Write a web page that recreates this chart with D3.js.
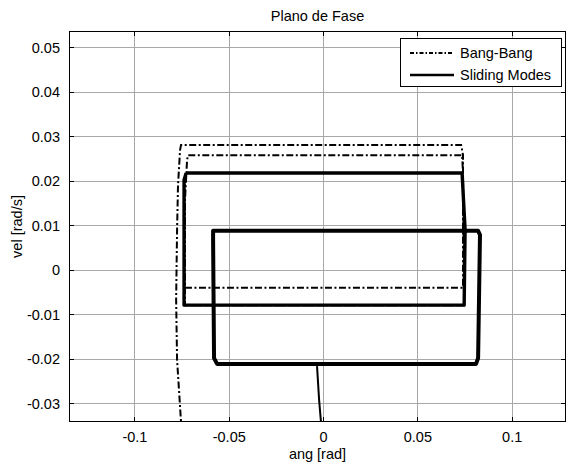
<!DOCTYPE html>
<html><head><meta charset="utf-8">
<script src="https://cdn.jsdelivr.net/npm/d3@7"></script>
<style>
html,body{margin:0;padding:0;background:#fff;}
text{font-family:"Liberation Sans",Arial,sans-serif;fill:#000;}
</style></head>
<body>
<svg id="chart" width="567" height="466"></svg>
<script>
// ---- data ----
const title = "Plano de Fase";
const xLabel = "ang [rad]";
const yLabel = "vel [rad/s]";
const xTicks = [-0.1, -0.05, 0, 0.05, 0.1];
const yTicks = [-0.03, -0.02, -0.01, 0, 0.01, 0.02, 0.03, 0.04, 0.05];
const xTickLabels = ["-0.1", "-0.05", "0", "0.05", "0.1"];
const yTickLabels = ["-0.03", "-0.02", "-0.01", "0", "0.01", "0.02", "0.03", "0.04", "0.05"];
const xDomain = [-0.1347, 0.1288];
const yDomain = [-0.03416, 0.0537];
const seriesNames = ["Bang-Bang", "Sliding Modes"];

// Bang-Bang trajectory [ang, vel]
const bangAng = [-0.0742, -0.0753, -0.0774, -0.0779, -0.0774, -0.0769, -0.0758, -0.0753, 0.0732, 0.0742, 0.0742, -0.0732, -0.0732, -0.0721, -0.0716, 0.0737, 0.0742, 0.0748, -0.0732, -0.0732, 0.0742, 0.0748, -0.0732];
const bangVel = [-0.0360, -0.0342, -0.0202, -0.0067, 0.0090, 0.0191, 0.0270, 0.0281, 0.0281, 0.0258, -0.0040, -0.0040, 0.0157, 0.0247, 0.0258, 0.0258, 0.0218, -0.0079, -0.0079, 0.0218, 0.0218, -0.0079, -0.0079];

// Sliding Modes trajectory pieces [ang, vel]
const smTailAng = [-0.0032, -0.0021, -0.0011, -0.0008];
const smTailVel = [-0.0216, -0.0292, -0.0342, -0.0360];
const smInnerAng = [-0.0032, 0.0811, 0.0822, 0.0832, 0.0822, -0.0583, -0.0583, -0.0578, -0.0562, 0.0811];
const smInnerVel = [-0.0211, -0.0211, -0.0198, 0.0079, 0.0088, 0.0088, 0.0067, -0.0198, -0.0211, -0.0211];
const smOuterAng = [-0.0726, 0.0737, 0.0753, 0.0748, -0.0737, -0.0737, -0.0726];
const smOuterVel = [0.0218, 0.0218, 0.0090, -0.0079, -0.0079, 0.0202, 0.0218];

// ---- layout ----
const L = 69, T = 31, R = 566, B = 422;
const svg = d3.select("#chart");
const x = d3.scaleLinear().domain(xDomain).range([L, R]);
const y = d3.scaleLinear().domain(yDomain).range([B, T]);
const FS = "14.5px";

svg.append("rect").attr("x", L).attr("y", T).attr("width", R - L).attr("height", B - T).attr("fill", "#fff");

// grid
const grid = svg.append("g").attr("stroke", "#a8a8a8").attr("stroke-width", 1).attr("shape-rendering", "crispEdges");
grid.selectAll(".gx").data(xTicks).join("line")
  .attr("x1", d => Math.round(x(d)) + 0.5).attr("x2", d => Math.round(x(d)) + 0.5).attr("y1", T).attr("y2", B);
grid.selectAll(".gy").data(yTicks).join("line")
  .attr("y1", d => Math.round(y(d)) + 0.5).attr("y2", d => Math.round(y(d)) + 0.5).attr("x1", L).attr("x2", R);

// clip
svg.append("clipPath").attr("id", "clip").append("rect").attr("x", L).attr("y", T).attr("width", R - L).attr("height", B - T);
const plot = svg.append("g").attr("clip-path", "url(#clip)");
const line = d3.line().x(d => x(d[0])).y(d => y(d[1]));
const zip = (a, b) => a.map((v, i) => [v, b[i]]);

const DASHDOT = "7,2.5,2,2.5";
plot.append("path").datum(zip(bangAng, bangVel)).attr("d", line)
  .attr("fill", "none").attr("stroke", "#000").attr("stroke-width", 2).attr("stroke-dasharray", DASHDOT);

plot.append("path").datum(zip(smOuterAng, smOuterVel)).attr("d", line)
  .attr("fill", "none").attr("stroke", "#000").attr("stroke-width", 3.4).attr("stroke-linejoin", "round");
plot.append("path").datum(zip(smInnerAng, smInnerVel)).attr("d", line)
  .attr("fill", "none").attr("stroke", "#000").attr("stroke-width", 4).attr("stroke-linejoin", "round");
plot.append("path").datum(zip(smTailAng, smTailVel)).attr("d", line)
  .attr("fill", "none").attr("stroke", "#000").attr("stroke-width", 2);

// axes box
svg.append("rect").attr("x", L + 0.5).attr("y", T + 0.5).attr("width", R - L - 1).attr("height", B - T - 1)
  .attr("fill", "none").attr("stroke", "#000").attr("stroke-width", 1).attr("shape-rendering", "crispEdges");

// ticks using d3 axes (inward)
const TK = 5;
const axB = d3.axisBottom(x).tickValues(xTicks).tickSize(-TK).tickPadding(10).tickFormat((d, i) => xTickLabels[i]);
const axT = d3.axisTop(x).tickValues(xTicks).tickSize(-TK).tickFormat("");
const axL = d3.axisLeft(y).tickValues(yTicks).tickSize(-TK).tickPadding(9).tickFormat((d, i) => yTickLabels[i]);
const axR = d3.axisRight(y).tickValues(yTicks).tickSize(-TK).tickFormat("");
function styleAxis(g) {
  g.select(".domain").remove();
  g.selectAll("line").attr("stroke", "#000").attr("shape-rendering", "crispEdges");
  g.selectAll("text").attr("font-size", FS).attr("font-family", '"Liberation Sans", Arial, sans-serif').attr("fill", "#000");
}
svg.append("g").attr("transform", `translate(0,${B})`).call(axB).call(styleAxis);
svg.append("g").attr("transform", `translate(0,${T})`).call(axT).call(styleAxis);
svg.append("g").attr("transform", `translate(${L},0)`).call(axL).call(styleAxis);
svg.append("g").attr("transform", `translate(${R},0)`).call(axR).call(styleAxis);

// title & labels
svg.append("text").attr("x", (L + R) / 2).attr("y", 21).attr("text-anchor", "middle").attr("font-size", FS).text(title);
svg.append("text").attr("x", (L + R) / 2).attr("y", 459).attr("text-anchor", "middle").attr("font-size", FS).text(xLabel);
svg.append("text").attr("transform", `translate(22,${(T + B) / 2}) rotate(-90)`).attr("text-anchor", "middle").attr("font-size", FS).text(yLabel);

// legend
const lg = svg.append("g");
lg.append("rect").attr("x", 400.5).attr("y", 38.5).attr("width", 161).attr("height", 48)
  .attr("fill", "#fff").attr("stroke", "#000").attr("stroke-width", 1);
const legRows = [{ name: seriesNames[0], dash: "4,2,1.5,2", w: 1.8, y: 53 }, { name: seriesNames[1], dash: null, w: 2.4, y: 75 }];
legRows.forEach(r => {
  lg.append("line").attr("x1", 410).attr("x2", 454).attr("y1", r.y).attr("y2", r.y)
    .attr("stroke", "#000").attr("stroke-width", r.w).attr("stroke-dasharray", r.dash);
  lg.append("text").attr("x", 460).attr("y", r.y).attr("dy", "0.36em").attr("font-size", FS).text(r.name);
});
</script>
</body></html>
